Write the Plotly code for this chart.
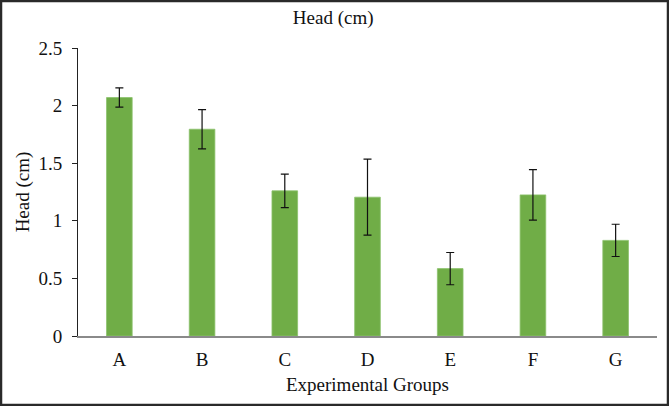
import plotly.graph_objects as go

groups = ["A", "B", "C", "D", "E", "F", "G"]
head_cm = [2.07, 1.795, 1.26, 1.205, 0.585, 1.225, 0.83]
err_cm = [0.083, 0.17, 0.145, 0.33, 0.14, 0.22, 0.14]
y_ticks = [0, 0.5, 1, 1.5, 2, 2.5]
y_tick_labels = ["0", "0.5", "1", "1.5", "2", "2.5"]

W, H = 669, 406
ML, MR, MT, MB = 78, 12, 48, 70
pw, ph = W - ML - MR, H - MT - MB
font = "Liberation Serif, Times New Roman, serif"
FS = 19

fig = go.Figure(go.Bar(
    x=groups, y=head_cm, width=0.31,
    marker=dict(color="#70AD47", line=dict(color="#8CC26C", width=0.8)),
    error_y=dict(type="data", array=err_cm, visible=True,
                 color="#111111", thickness=1.2, width=4),
))

fig.update_layout(
    width=W, height=H,
    margin=dict(l=ML, r=MR, t=MT, b=MB),
    paper_bgcolor="white", plot_bgcolor="white",
    font=dict(family=font, size=FS, color="#111111"),
    showlegend=False,
    title=dict(text="Head (cm)", x=0.498, xanchor="center", xref="container",
               y=1 - 17 / H, yanchor="middle", yref="container",
               font=dict(family=font, size=FS, color="#111111")),
    xaxis=dict(range=[-0.5, 6.5], showline=True, linecolor="#8a8a8a",
               linewidth=1.5, ticks="", showgrid=False, zeroline=False,
               tickfont=dict(size=FS), ticklabelstandoff=5,
               title=dict(text="Experimental Groups", standoff=9,
                          font=dict(size=FS))),
    yaxis=dict(range=[0, 2.5], tickvals=y_ticks, ticktext=y_tick_labels,
               showline=True, linecolor="#222222", linewidth=1,
               ticks="outside", ticklen=5, tickcolor="#222222",
               showgrid=False, zeroline=False, tickfont=dict(size=FS),
               ticklabelstandoff=6,
               title=dict(text="Head (cm)", standoff=3, font=dict(size=FS))),
    shapes=[dict(type="rect", xref="paper", yref="paper",
                 x0=-(ML - 1) / pw, x1=1 + (MR - 1) / pw,
                 y0=-(MB - 1) / ph, y1=1 + (MT - 1) / ph,
                 line=dict(color="#2a2a2a", width=2.5), layer="above")],
)

fig.write_html("out.html")
